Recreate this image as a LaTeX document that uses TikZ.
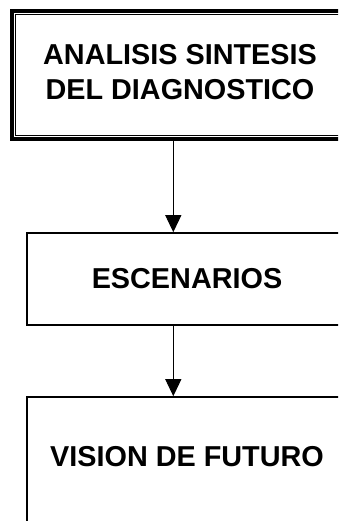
\documentclass[tikz,border=0pt]{standalone}
\usepackage{fontspec}
\setmainfont{Liberation Sans}
\usetikzlibrary{arrows.meta}
\begin{document}
\begin{tikzpicture}[x=1pt,y=1pt,
  txt/.style={font=\bfseries\fontsize{28.8}{35}\selectfont, align=center, inner sep=0pt},
  boxb/.style={draw=black, line width=1.6pt, rectangle, inner sep=0pt},
  conn/.style={draw=black, line width=1pt, -{Triangle[length=17pt,width=16pt]}}]
\useasboundingbox (0,0) rectangle (338,521);
\clip (0,0) rectangle (338,521);
% top box (double border)
\node[draw=black, line width=3.5pt, rectangle, minimum width=336pt, minimum height=128pt, inner sep=0pt] (A) at (180,446) {};
\draw[line width=0.9pt] ([shift={(5.5,5.5)}]A.south west) rectangle ([shift={(-5.5,-5.5)}]A.north east);
\node[txt] (At) at (180,448.5) {ANALISIS SINTESIS\\DEL DIAGNOSTICO};
% middle box
\node[boxb, minimum width=320pt, minimum height=92pt] (B) at (187,242) {};
\node[txt] (Bt) at (187,242) {ESCENARIOS};
% bottom box
\node[boxb, minimum width=320pt, minimum height=134pt] (C) at (187,57) {};
\node[txt] (Ct) at (187,64) {VISION DE FUTURO};
% connectors
\coordinate (ax) at (173.3,0);
\draw[conn] (A.south -| ax) -- (B.north -| ax);
\draw[conn] (B.south -| ax) -- (C.north -| ax);
\end{tikzpicture}
\end{document}
